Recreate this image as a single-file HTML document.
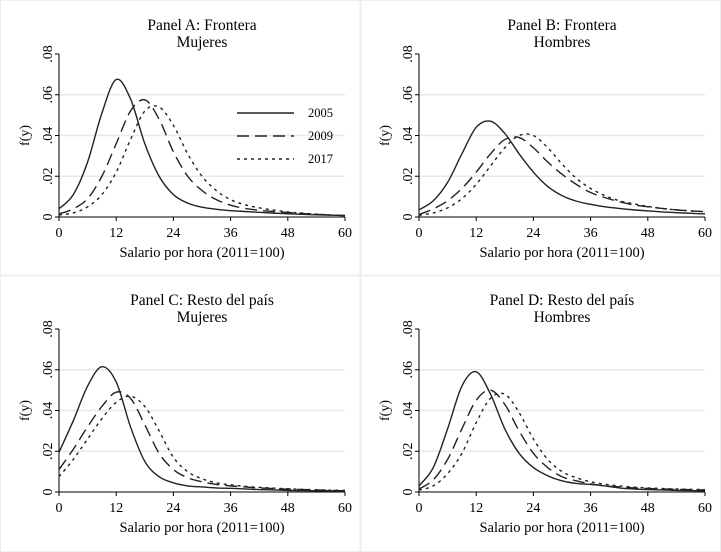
<!DOCTYPE html>
<html><head><meta charset="utf-8"><style>
body{margin:0;background:#fff}
svg{display:block;font-family:"Liberation Serif",serif}
</style></head><body>
<svg id="chart" width="721" height="552" viewBox="0 0 721 552">
<rect x="0" y="0" width="721" height="552" fill="#fff"/>
<rect x="0.5" y="0.5" width="720" height="551" fill="none" stroke="#eeeeee"/>
<line x1="360.5" y1="0" x2="360.5" y2="552" stroke="#eeeeee" stroke-width="2"/>
<line x1="0" y1="275.5" x2="721" y2="275.5" stroke="#eeeeee" stroke-width="2"/>
</svg>
<script>
const xs=[0,3,6,9,12,15,18,21,24,27,30,33,36,39,42,45,48,51,54,57,60];
const years=["2005","2009","2017"];
const xTicks=[0,12,24,36,48,60];
const yTicks=[0,0.02,0.04,0.06,0.08];
const yTickLabels=["0",".02",".04",".06",".08"];
const titlesA=["Panel A: Frontera","Mujeres"];
const titlesB=["Panel B: Frontera","Hombres"];
const titlesC=["Panel C: Resto del país","Mujeres"];
const titlesD=["Panel D: Resto del país","Hombres"];
const a2005=[.004,.011,.027,.051,.0675,.058,.036,.020,.011,.0068,.0048,.0038,.0031,.0027,.0023,.0019,.0016,.0013,.0011,.0009,.0007];
const a2009=[.0015,.004,.009,.020,.036,.052,.0575,.048,.032,.020,.013,.0085,.0058,.0042,.0033,.0027,.0022,.0017,.0013,.0010,.0007];
const a2017=[.001,.002,.005,.011,.022,.038,.052,.054,.045,.031,.020,.013,.0085,.006,.0045,.0034,.0025,.0019,.0014,.0010,.0007];
const b2005=[.0035,.008,.017,.031,.044,.047,.041,.031,.022,.015,.0105,.0078,.0062,.005,.0042,.0035,.003,.0025,.0021,.0018,.0015];
const b2009=[.0012,.004,.008,.014,.022,.031,.038,.039,.034,.027,.021,.016,.012,.0095,.0075,.006,.005,.0042,.0035,.003,.0026];
const b2017=[.0008,.002,.0045,.009,.016,.025,.034,.040,.040,.034,.026,.019,.014,.0105,.008,.0065,.0052,.0042,.0035,.003,.0026];
const c2005=[.0195,.035,.052,.0615,.054,.032,.015,.0075,.0045,.003,.0025,.002,.0018,.0015,.0012,.001,.0008,.0007,.0006,.0005,.0004];
const c2009=[.011,.021,.032,.042,.049,.046,.033,.019,.011,.007,.005,.0037,.003,.0025,.002,.0017,.0014,.0012,.001,.0008,.0006];
const c2017=[.0075,.016,.026,.036,.044,.047,.042,.030,.017,.010,.0065,.0045,.0035,.0028,.0023,.0019,.0016,.0013,.0011,.0009,.0008];
const d2005=[.003,.012,.031,.052,.059,.048,.031,.019,.012,.008,.0055,.0042,.0037,.003,.002,.0015,.0012,.001,.0008,.0007,.0006];
const d2009=[.0015,.006,.016,.031,.045,.050,.043,.030,.019,.012,.0075,.0055,.004,.003,.0025,.002,.0017,.0015,.0013,.0011,.001];
const d2017=[.001,.003,.009,.019,.034,.046,.048,.039,.026,.016,.010,.007,.005,.0038,.003,.0024,.002,.0017,.0015,.0013,.0012];

const NS="http://www.w3.org/2000/svg";
const svg=document.getElementById('chart');
const dashes=["","12,6","3,4"];
function mk(tag,attrs,parent){const e=document.createElementNS(NS,tag);for(const k in attrs)e.setAttribute(k,attrs[k]);(parent||svg).appendChild(e);return e;}

function panel(key,ox,oy,titles,series,legend){
  const g=mk('g',{});
  
  
  const x0=59+ox,x1=345+ox,y0=217+oy,y1=54+oy;
  const sx=v=>x0+(x1-x0)*v/60;
  const sy=v=>y0-(y0-y1)*v/0.08;
  yTicks.forEach((t,i)=>{
    if(i>0&&i<4){const gl=mk('line',{x1:x0,x2:x1,y1:sy(t),y2:sy(t),stroke:'#e8e8e8','stroke-width':1.5},g);
      
      }
    mk('line',{x1:x0-4,x2:x0,y1:sy(t),y2:sy(t),stroke:'#000'},g);
    const tx=mk('text',{x:0,y:0,transform:`translate(${x0-7},${sy(t)}) rotate(-90)`,'text-anchor':'middle','font-size':14},g);
    tx.textContent=yTickLabels[i];
    
    
  });
  xTicks.forEach(t=>{
    mk('line',{x1:sx(t),x2:sx(t),y1:y0,y2:y0+4,stroke:'#000'},g);
    const tx=mk('text',{x:sx(t),y:y0+20,'text-anchor':'middle','font-size':14},g);
    tx.textContent=t;
    
    
  });
  mk('line',{x1:x0,x2:x0,y1:y1,y2:y0,stroke:'#000'},g);
  mk('line',{x1:x0,x2:x1,y1:y0,y2:y0,stroke:'#000'},g);
  const yl=mk('text',{x:0,y:0,transform:`translate(${ox+29},${(y0+y1)/2}) rotate(-90)`,'text-anchor':'middle','font-size':14},g);
  yl.textContent='f(y)';
  
  
  const xl=mk('text',{x:(x0+x1)/2,y:y0+40,'text-anchor':'middle','font-size':14.5},g);
  xl.textContent='Salario por hora (2011=100)';
  
  
  titles.forEach((t,i)=>{
    const tt=mk('text',{x:(x0+x1)/2,y:oy+30+i*17,'text-anchor':'middle','font-size':15.5},g);
    tt.textContent=t;
    
    
  });
  series.forEach((vals,si)=>{
    const pts=xs.map((x,i)=>[sx(x),sy(vals[i])]);
    let d=`M${pts[0][0]},${pts[0][1]}`;
    for(let i=0;i<pts.length-1;i++){
      const p0=pts[Math.max(0,i-1)],p1=pts[i],p2=pts[i+1],p3=pts[Math.min(pts.length-1,i+2)];
      const c1=[p1[0]+(p2[0]-p0[0])/6,p1[1]+(p2[1]-p0[1])/6];
      const c2=[p2[0]-(p3[0]-p1[0])/6,p2[1]-(p3[1]-p1[1])/6];
      d+=` C${c1[0]},${c1[1]} ${c2[0]},${c2[1]} ${p2[0]},${p2[1]}`;
    }
    const p=mk('path',{d:d,fill:'none',stroke:'#222','stroke-width':1.4,'stroke-dasharray':dashes[si]},g);
    
    
  });
  if(legend){
    years.forEach((y,i)=>{
      const ly=ox+oy+113+i*23;
      const l=mk('line',{x1:237,x2:294,y1:ly,y2:ly,stroke:'#222','stroke-width':1.4,'stroke-dasharray':dashes[i]},g);
      
      
      const t=mk('text',{x:308,y:ly+4,'font-size':12.5},g);
      t.textContent=y;
      
      
    });
  }
}
panel('a',0,0,titlesA,[a2005,a2009,a2017],true);
panel('b',360,0,titlesB,[b2005,b2009,b2017],false);
panel('c',0,275,titlesC,[c2005,c2009,c2017],false);
panel('d',360,275,titlesD,[d2005,d2009,d2017],false);
</script>
</body></html>
